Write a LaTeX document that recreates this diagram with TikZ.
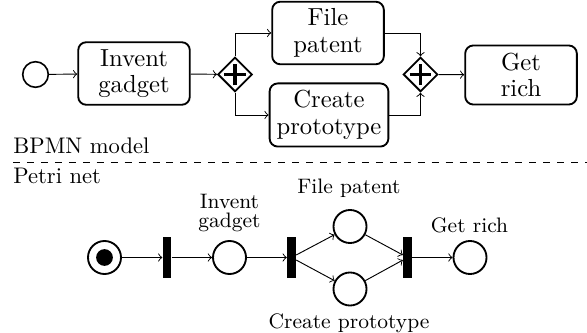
\documentclass[tikz,border=0pt]{standalone}
\usetikzlibrary{shapes.geometric}
\begin{document}
\begin{tikzpicture}[x=0.43pt,y=-0.43pt,
  task/.style={draw,line width=0.8pt,rounded corners=3.5pt,minimum width=48pt,
    minimum height=25.4pt,align=center,inner sep=3pt,
    font=\fontsize{10.6}{11.5}\selectfont},
  gateway/.style={draw,diamond,line width=0.8pt,minimum size=14.8pt,inner sep=0pt},
  startev/.style={draw,circle,line width=0.7pt,minimum size=11pt,inner sep=0pt},
  place/.style={draw,circle,line width=0.8pt,minimum size=14.2pt,inner sep=0pt},
  token/.style={fill=black,circle,minimum size=7.2pt,inner sep=0pt},
  transition/.style={fill=black,rectangle,minimum width=3.6pt,minimum height=17.6pt,inner sep=0pt},
  plabel/.style={inner sep=0pt,align=center,font=\fontsize{9}{8}\selectfont},
  flow/.style={->,line width=0.4pt},
  plus/.style={line width=1.3pt},
  heading/.style={inner sep=0pt,anchor=base west,font=\fontsize{9.7}{11}\selectfont}]
\useasboundingbox (0,0) rectangle (587,333);

% BPMN model
\node[startev] (start) at (35.5,74.5) {};
\node[task] (invent) at (134,73.5) {Invent\\gadget};
\node[gateway] (split) at (235,74.5) {};
\node[task] (file) at (328,33) {File\\patent};
\node[task] (proto) at (329,115) {Create\\prototype};
\node[gateway] (join) at (420.5,74.5) {};
\node[task] (rich) at (521,75) {Get\\rich};

% parallel gateway markers
\foreach \g in {split,join}{
  \draw[plus] ([xshift=-4.7pt]\g.center) -- ([xshift=4.7pt]\g.center);
  \draw[plus] ([yshift=-4.7pt]\g.center) -- ([yshift=4.7pt]\g.center);
}

\draw[flow] (start) -- (invent);
\draw[flow] (invent) -- (split);
\draw[flow] (split.north) |- (file.west);
\draw[flow] (split.south) |- (proto.west);
\draw[flow] (file.east) -| (join.north);
\draw[flow] (proto.east) -| (join.south);
\draw[flow] (join) -- (rich);

% separator
\node[heading] (bpmn) at (13,153.5) {BPMN model};
\node[heading] (petri) at (13,184) {Petri net};
\coordinate (sepl) at (13,162);
\coordinate (sepr) at (587,162);
\draw[dashed,line width=0.4pt] (sepl) -- (sepr);

% Petri net
\node[place] (p1) at (104.5,257.5) {};
\node[token] (tok) at (p1) {};
\node[transition] (t1) at (167,257.5) {};
\node[place] (p2) at (229.5,257.5) {};
\node[transition] (t2) at (291.5,257.5) {};
\node[place] (p3) at (350,226.5) {};
\node[place] (p4) at (350,289) {};
\node[transition] (t3) at (407.5,257.5) {};
\node[place] (p5) at (470,257.5) {};

\node[plabel,anchor=south] (l2) at (229.5,232) {Invent\\gadget};
\node[plabel,anchor=south] (l3) at (349,198.5) {File patent};
\node[plabel,anchor=north] (l4) at (349,313) {Create prototype};
\node[plabel,anchor=base] (l5) at (469.5,233) {Get rich};

\draw[flow] (p1) -- (t1);
\draw[flow] (t1) -- (p2);
\draw[flow] (p2) -- (t2);
\draw[flow] (t2) -- (p3);
\draw[flow] (t2) -- (p4);
\draw[flow] (p3) -- (t3);
\draw[flow] (p4) -- (t3);
\draw[flow] (t3) -- (p5);
\end{tikzpicture}
\end{document}
